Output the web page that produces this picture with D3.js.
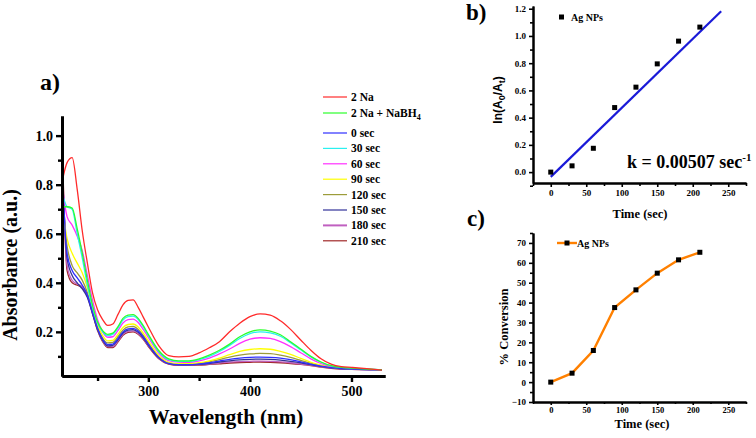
<!DOCTYPE html>
<html>
<head>
<meta charset="utf-8">
<script src="https://cdn.jsdelivr.net/npm/d3@7"></script>
<style>
  body { margin: 0; background: #fff; }
  svg { display: block; font-family: "Liberation Serif", "Times New Roman", serif; font-weight: bold; }
  .domain { stroke: #000; }
  .tick line { stroke: #000; }
</style>
</head>
<body>
<svg id="fig" width="756" height="438"></svg>
<script>
(function(){

// ---- panel a: UV-vis spectra ----
let wavelengths = [215, 220, 225, 230, 235, 240, 245, 250, 255, 260, 265, 270, 275, 280, 285, 290, 295, 300,
  310, 320, 330, 340, 350, 360, 370, 380, 390, 400, 410, 420, 430, 440, 450, 460, 470, 480, 490, 500, 515, 530];

let abs2Na =    [0.81, 0.89, 0.91, 0.78, 0.61, 0.48, 0.36, 0.29, 0.25, 0.226, 0.232, 0.27, 0.31, 0.328, 0.33, 0.30, 0.26, 0.22,
  0.145, 0.103, 0.098, 0.10, 0.114, 0.135, 0.16, 0.20, 0.235, 0.262, 0.273, 0.268, 0.245, 0.21, 0.167, 0.125, 0.09, 0.068, 0.058, 0.055, 0.05, 0.044];
let absNaBH4 =  [0.71, 0.71, 0.705, 0.62, 0.52, 0.41, 0.31, 0.24, 0.205, 0.19, 0.195, 0.22, 0.255, 0.268, 0.27, 0.255, 0.225, 0.19,
  0.125, 0.09, 0.082, 0.082, 0.09, 0.105, 0.125, 0.15, 0.18, 0.20, 0.208, 0.203, 0.188, 0.16, 0.13, 0.10, 0.077, 0.062, 0.055, 0.052, 0.048, 0.045];
let abs0s =     [0.85, 0.52, 0.45, 0.42, 0.39, 0.35, 0.28, 0.215, 0.17, 0.148, 0.15, 0.172, 0.20, 0.212, 0.214, 0.203, 0.18, 0.15,
  0.097, 0.071, 0.066, 0.066, 0.069, 0.074, 0.081, 0.088, 0.093, 0.096, 0.097, 0.096, 0.093, 0.087, 0.078, 0.068, 0.06, 0.054, 0.05, 0.048, 0.046, 0.045];
let abs30s =    [0.77, 0.71, 0.70, 0.60, 0.50, 0.39, 0.30, 0.235, 0.20, 0.185, 0.19, 0.215, 0.248, 0.262, 0.264, 0.25, 0.22, 0.185,
  0.12, 0.087, 0.08, 0.08, 0.087, 0.10, 0.12, 0.145, 0.173, 0.193, 0.20, 0.196, 0.182, 0.156, 0.127, 0.098, 0.076, 0.061, 0.054, 0.051, 0.048, 0.045];
let abs60s =    [0.80, 0.67, 0.635, 0.59, 0.53, 0.43, 0.33, 0.25, 0.20, 0.178, 0.18, 0.205, 0.236, 0.25, 0.252, 0.238, 0.21, 0.177,
  0.115, 0.083, 0.077, 0.076, 0.082, 0.093, 0.11, 0.13, 0.153, 0.17, 0.176, 0.173, 0.16, 0.14, 0.115, 0.09, 0.071, 0.059, 0.053, 0.05, 0.047, 0.045];
let abs90s =    [0.72, 0.58, 0.52, 0.48, 0.44, 0.38, 0.30, 0.23, 0.185, 0.163, 0.165, 0.19, 0.218, 0.23, 0.232, 0.22, 0.195, 0.163,
  0.105, 0.076, 0.07, 0.07, 0.074, 0.082, 0.093, 0.107, 0.12, 0.128, 0.131, 0.129, 0.12, 0.108, 0.092, 0.076, 0.064, 0.056, 0.052, 0.05, 0.047, 0.045];
let abs120s =   [0.75, 0.55, 0.47, 0.44, 0.41, 0.36, 0.29, 0.22, 0.175, 0.155, 0.157, 0.18, 0.207, 0.22, 0.222, 0.21, 0.186, 0.155,
  0.10, 0.073, 0.068, 0.068, 0.071, 0.078, 0.087, 0.097, 0.105, 0.11, 0.112, 0.111, 0.105, 0.096, 0.084, 0.072, 0.062, 0.055, 0.051, 0.049, 0.047, 0.045];
let abs150s =   [0.90, 0.50, 0.43, 0.40, 0.375, 0.34, 0.275, 0.21, 0.166, 0.143, 0.145, 0.167, 0.195, 0.207, 0.209, 0.198, 0.176, 0.146,
  0.095, 0.07, 0.065, 0.065, 0.067, 0.071, 0.077, 0.082, 0.086, 0.088, 0.089, 0.088, 0.085, 0.08, 0.074, 0.066, 0.059, 0.053, 0.05, 0.048, 0.046, 0.045];
let abs180s =   [0.95, 0.47, 0.41, 0.395, 0.385, 0.35, 0.28, 0.21, 0.163, 0.14, 0.14, 0.162, 0.19, 0.202, 0.204, 0.193, 0.172, 0.143,
  0.093, 0.069, 0.064, 0.064, 0.066, 0.069, 0.073, 0.077, 0.079, 0.08, 0.081, 0.08, 0.078, 0.074, 0.069, 0.063, 0.057, 0.052, 0.049, 0.047, 0.046, 0.045];
let abs210s =   [1.00, 0.45, 0.40, 0.39, 0.38, 0.345, 0.275, 0.205, 0.16, 0.136, 0.136, 0.158, 0.186, 0.198, 0.20, 0.19, 0.169, 0.14,
  0.091, 0.068, 0.063, 0.063, 0.064, 0.067, 0.07, 0.073, 0.075, 0.076, 0.077, 0.076, 0.074, 0.071, 0.067, 0.062, 0.056, 0.051, 0.048, 0.047, 0.046, 0.045];

let seriesNames = ["2 Na", "2 Na + NaBH4", "0 sec", "30 sec", "60 sec", "90 sec", "120 sec", "150 sec", "180 sec", "210 sec"];
let seriesColors = ["#ff2a2a", "#2aff2a", "#3030ff", "#2af0f0", "#ff30ff", "#ffff00", "#9c9c3a", "#333399", "#c060c0", "#a02828"];
let seriesValues = [abs2Na, absNaBH4, abs0s, abs30s, abs60s, abs90s, abs120s, abs150s, abs180s, abs210s];

let wlMajor = [300, 400, 500], wlMinor = [250, 350, 450];
let absMajor = [0.2, 0.4, 0.6, 0.8, 1.0], absMinor = [0.1, 0.3, 0.5, 0.7, 0.9];

// ---- panel b: kinetics ----
let timeSec = [0, 30, 60, 90, 120, 150, 180, 210];
let lnRatio = [0.0, 0.046, 0.175, 0.474, 0.624, 0.795, 0.962, 1.065];
let fitTime = [0, 240];
let fitLn = [-0.035, 1.182];
let lnMajor = [0, 0.2, 0.4, 0.6, 0.8, 1.0, 1.2];
let lnMinor = [-0.1, 0.1, 0.3, 0.5, 0.7, 0.9, 1.1];

// ---- panel c: conversion ----
let conversion = [0, 4.5, 15.9, 37.5, 46.4, 54.8, 61.5, 65.3];
let convMajor = [-10, 0, 10, 20, 30, 40, 50, 60, 70];
let convMinor = [-5, 5, 15, 25, 35, 45, 55, 65, 75];
let timeMajor = [0, 50, 100, 150, 200, 250];
let timeMinor = [-25, 25, 75, 125, 175, 225, 275];

let svg = d3.select("#fig");

function styleAxis (g, width, fontSize)
{
  g.select(".domain").attr("stroke-width", width);
  g.selectAll(".tick line").attr("stroke-width", width * 0.8);
  g.selectAll(".tick text")
    .attr("font-family", "Liberation Serif, serif")
    .attr("font-weight", "bold")
    .attr("font-size", fontSize)
    .attr("fill", "#000");
}

/*
 * Panel a
 */
let xA = d3.scaleLinear().domain([215, 533]).range([62, 385]);
let yA = d3.scaleLinear().domain([0.02, 1.08]).range([376, 116]);

svg.append("clipPath").attr("id", "clipA")
  .append("rect")
    .attr("x", xA.range()[0]).attr("y", yA.range()[1])
    .attr("width", xA.range()[1] - xA.range()[0])
    .attr("height", yA.range()[0] - yA.range()[1]);

let spectrum = d3.line()
  .x(function(d, i){ return xA(wavelengths[i]); })
  .y(function(d){ return yA(d); })
  .curve(d3.curveMonotoneX);

let gA = svg.append("g").attr("clip-path", "url(#clipA)");

// draw in reverse so red ends up on top
seriesValues.slice().reverse().forEach(function(vals, k) {
  let i = seriesValues.length - 1 - k;
  gA.append("path")
    .datum(vals)
    .attr("fill", "none")
    .attr("stroke", seriesColors[i])
    .attr("stroke-width", 1.3)
    .attr("d", spectrum);
});

svg.append("g")
  .attr("transform", "translate(0," + yA.range()[0] + ")")
  .call(d3.axisBottom(xA).tickValues(wlMinor).tickFormat("").tickSize(5).tickSizeOuter(0))
  .call(g => styleAxis(g, 3, 13));
svg.append("g")
  .attr("transform", "translate(0," + yA.range()[0] + ")")
  .call(d3.axisBottom(xA).tickValues(wlMajor).tickSize(6).tickSizeOuter(0).tickPadding(4))
  .call(g => styleAxis(g, 3, 14));

svg.append("g")
  .attr("transform", "translate(" + xA.range()[0] + ",0)")
  .call(d3.axisLeft(yA).tickValues(absMinor).tickFormat("").tickSize(4).tickSizeOuter(0))
  .call(g => styleAxis(g, 3, 13));
svg.append("g")
  .attr("transform", "translate(" + xA.range()[0] + ",0)")
  .call(d3.axisLeft(yA).tickValues(absMajor).tickFormat(d3.format(".1f")).tickSize(6).tickSizeOuter(0).tickPadding(3))
  .call(g => styleAxis(g, 3, 14));

svg.append("text")
  .attr("transform", "translate(17," + 265 + ") rotate(-90)")
  .attr("text-anchor", "middle")
  .attr("font-size", 20)
  .text("Absorbance (a.u.)");

svg.append("text")
  .attr("x", 226).attr("y", 424)
  .attr("text-anchor", "middle")
  .attr("font-size", 21)
  .text("Wavelength (nm)");

svg.append("text")
  .attr("x", 40).attr("y", 90)
  .attr("font-size", 24)
  .text("a)");

// legend
let legendA = svg.selectAll(".legA")
  .data(seriesNames)
  .enter()
  .append("g")
  .attr("class", "legA")
  .attr("transform", function(d, i){ return "translate(323," + (97 + i * 16 - (i >= 2 ? -4 : 0) - (i >= 2 ? 0.6 * (i - 2) : 0)) + ")"; });

legendA.append("line")
  .attr("x1", 0).attr("x2", 24)
  .attr("stroke", function(d, i){ return seriesColors[i]; })
  .attr("stroke-width", function(d, i){ return i === 8 ? 2 : 1.2; });

legendA.append("text")
  .attr("x", 28).attr("y", 4)
  .attr("font-size", 11.5)
  .each(function(d) {
    let t = d3.select(this);
    if (d.endsWith("NaBH4")) {
      t.text("2 Na + NaBH");
      t.append("tspan").attr("dy", 3).attr("font-size", 8).text("4");
    } else {
      t.text(d);
    }
  });

/*
 * Panel b
 */
let xB = d3.scaleLinear().domain([-25, 275]).range([533, 746]);
let yB = d3.scaleLinear().domain([-0.08, 1.22]).range([183, 6]);

svg.append("g")
  .attr("transform", "translate(0," + yB.range()[0] + ")")
  .call(d3.axisBottom(xB).tickValues(timeMinor).tickFormat("").tickSize(3).tickSizeOuter(0))
  .call(g => styleAxis(g, 2, 9));
svg.append("g")
  .attr("transform", "translate(0," + yB.range()[0] + ")")
  .call(d3.axisBottom(xB).tickValues(timeMajor).tickSize(4).tickSizeOuter(0).tickPadding(3))
  .call(g => styleAxis(g, 2, 9));
svg.append("g")
  .attr("transform", "translate(" + xB.range()[0] + ",0)")
  .call(d3.axisLeft(yB).tickValues(lnMinor).tickFormat("").tickSize(3).tickSizeOuter(0))
  .call(g => styleAxis(g, 2, 9));
svg.append("g")
  .attr("transform", "translate(" + xB.range()[0] + ",0)")
  .call(d3.axisLeft(yB).tickValues(lnMajor).tickFormat(d3.format(".1f")).tickSize(4).tickSizeOuter(0).tickPadding(3))
  .call(g => styleAxis(g, 2, 9));

svg.append("path")
  .datum(fitTime)
  .attr("fill", "none")
  .attr("stroke", "#1a1ad8")
  .attr("stroke-width", 2.2)
  .attr("d", d3.line()
    .x(function(d){ return xB(d); })
    .y(function(d, i){ return yB(fitLn[i]); }));

svg.selectAll(".ptB")
  .data(timeSec)
  .enter()
  .append("rect")
  .attr("class", "ptB")
  .attr("x", function(d){ return xB(d) - 2.5; })
  .attr("y", function(d, i){ return yB(lnRatio[i]) - 2.5; })
  .attr("width", 5).attr("height", 5)
  .attr("fill", "#000");

svg.append("rect")
  .attr("x", 559).attr("y", 14.5).attr("width", 5).attr("height", 5).attr("fill", "#000");
svg.append("text")
  .attr("x", 571).attr("y", 20.5)
  .attr("font-size", 10)
  .text("Ag NPs");

let lnLabel = svg.append("text")
  .attr("transform", "translate(502,100) rotate(-90)")
  .attr("text-anchor", "middle")
  .attr("font-family", "Liberation Sans, Arial, sans-serif")
  .attr("font-size", 12);
lnLabel.append("tspan").text("ln(A");
lnLabel.append("tspan").attr("dy", 3).attr("font-size", 9).text("0");
lnLabel.append("tspan").attr("dy", -3).text("/A");
lnLabel.append("tspan").attr("dy", 3).attr("font-size", 9).text("t");
lnLabel.append("tspan").attr("dy", -3).text(")");

let kLabel = svg.append("text")
  .attr("x", 627).attr("y", 168)
  .attr("font-size", 18);
kLabel.append("tspan").text("k = 0.00507 sec");
kLabel.append("tspan").attr("dy", -7).attr("font-size", 11).text("-1");

svg.append("text")
  .attr("x", 640).attr("y", 218)
  .attr("text-anchor", "middle")
  .attr("font-size", 12.5)
  .text("Time (sec)");

svg.append("text")
  .attr("x", 466).attr("y", 20)
  .attr("font-size", 23)
  .text("b)");

/*
 * Panel c
 */
let xC = d3.scaleLinear().domain([-25, 275]).range([533, 746]);
let yC = d3.scaleLinear().domain([-10, 75]).range([402, 233]);

svg.append("g")
  .attr("transform", "translate(0," + yC.range()[0] + ")")
  .call(d3.axisBottom(xC).tickValues(timeMinor).tickFormat("").tickSize(2).tickSizeOuter(0))
  .call(g => styleAxis(g, 2, 8.5));
svg.append("g")
  .attr("transform", "translate(0," + yC.range()[0] + ")")
  .call(d3.axisBottom(xC).tickValues(timeMajor).tickSize(3).tickSizeOuter(0).tickPadding(1.5))
  .call(g => styleAxis(g, 2, 8.5));
svg.append("g")
  .attr("transform", "translate(" + xC.range()[0] + ",0)")
  .call(d3.axisLeft(yC).tickValues(convMinor).tickFormat("").tickSize(3).tickSizeOuter(0))
  .call(g => styleAxis(g, 2, 9));
svg.append("g")
  .attr("transform", "translate(" + xC.range()[0] + ",0)")
  .call(d3.axisLeft(yC).tickValues(convMajor).tickSize(4).tickSizeOuter(0).tickPadding(3))
  .call(g => styleAxis(g, 2, 9));

svg.append("path")
  .datum(timeSec)
  .attr("fill", "none")
  .attr("stroke", "#ff8000")
  .attr("stroke-width", 2.4)
  .attr("d", d3.line()
    .x(function(d){ return xC(d); })
    .y(function(d, i){ return yC(conversion[i]); }));

svg.selectAll(".ptC")
  .data(timeSec)
  .enter()
  .append("rect")
  .attr("class", "ptC")
  .attr("x", function(d){ return xC(d) - 2.5; })
  .attr("y", function(d, i){ return yC(conversion[i]) - 2.5; })
  .attr("width", 5).attr("height", 5)
  .attr("fill", "#000");

svg.append("line")
  .attr("x1", 557).attr("x2", 577).attr("y1", 243).attr("y2", 243)
  .attr("stroke", "#ff8000").attr("stroke-width", 2.4);
svg.append("rect")
  .attr("x", 564.5).attr("y", 240.5).attr("width", 5).attr("height", 5).attr("fill", "#000");
svg.append("text")
  .attr("x", 577).attr("y", 247)
  .attr("font-size", 10)
  .text("Ag NPs");

svg.append("text")
  .attr("transform", "translate(508,327) rotate(-90)")
  .attr("text-anchor", "middle")
  .attr("font-size", 12.5)
  .text("% Conversion");

svg.append("text")
  .attr("x", 642).attr("y", 428)
  .attr("text-anchor", "middle")
  .attr("font-size", 12.5)
  .text("Time (sec)");

svg.append("text")
  .attr("x", 467).attr("y", 226)
  .attr("font-size", 23)
  .text("c)");

})();
</script>
</body>
</html>
